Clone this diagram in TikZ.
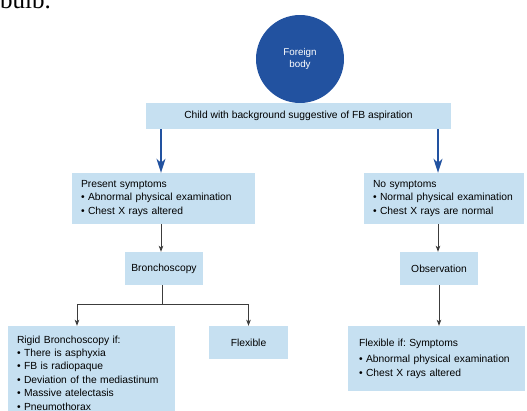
\documentclass[tikz,border=0pt]{standalone}
\usepackage{fontspec}
\setmainfont{Liberation Sans}
\newfontfamily\pageserif{Liberation Serif}
\usetikzlibrary{%
        arrows.meta,
        positioning
    }
\definecolor{fbblue}{RGB}{34, 82, 160}
\definecolor{boxblue}{RGB}{198, 224, 241}
\definecolor{linegray}{RGB}{60, 60, 60}
\frenchspacing
\tikzset{%
    stepbox/.style={%
        fill=boxblue,
        align=left,
        inner xsep=9pt,
        font=\fontsize{10.3}{13.4}\selectfont
    },
    labelbox/.style={%
        fill=boxblue,
        align=center,
        inner sep=0pt,
        font=\fontsize{10.3}{13.4}\selectfont
    },
    bluearrow/.style={%
        -{Stealth[length=14pt, width=9pt, inset=4pt]},
        fbblue,
        line width=1.4pt
    },
    grayarrow/.style={%
        -{Stealth[length=6pt, width=4.5pt, inset=1.5pt]},
        linegray,
        line width=0.8pt
    }
}

\begin{document}
\begin{tikzpicture}[x=1pt, y=-1pt]

    \useasboundingbox (0, 0) rectangle (527, 410);

    % Cropped page text
    \node[anchor=base west, inner sep=0pt, font=\pageserif\fontsize{25}{25}\selectfont]
        (caption) at (0, 8) {bulb.};

    % Start
    \node[circle, fill=fbblue, minimum size=88pt, inner sep=0pt, text=white,
          align=center, font=\fontsize{9.8}{12.6}\selectfont]
        (fb) at (300, 59) {Foreign\\body};
    \node[labelbox, minimum width=305pt, minimum height=26pt]
        (child) at (298.5, 116) {Child with background suggestive of FB aspiration};

    \coordinate (lcol) at (161, 0);
    \coordinate (rcol) at (438, 0);

    % Symptoms
    \node[stepbox, text width=165pt, minimum height=51pt] (present) at (163.5, 198.5)
        {Present symptoms\\
         \textbullet\ Abnormal physical examination\\
         \textbullet\ Chest X rays altered};
    \node[stepbox, text width=142pt, minimum height=51pt] (nosymp) at (444, 198.5)
        {No symptoms\\
         \textbullet\ Normal physical examination\\
         \textbullet\ Chest X rays are normal};

    \draw[bluearrow] (child.south -| lcol) -- (present.north -| lcol);
    \draw[bluearrow] (child.south -| rcol) -- (nosymp.north -| rcol);

    % Next step
    \node[labelbox, minimum width=78pt, minimum height=33pt] (bron) at (164, 268.5)
        {Bronchoscopy};
    \node[labelbox, minimum width=78pt, minimum height=33pt] (obs) at (439, 268.5)
        {Observation};

    \draw[grayarrow] (present.south -| lcol) -- (bron.north -| lcol);
    \draw[grayarrow] (nosymp.south -| rcol) -- (obs.north -| rcol);

    % Kind of bronchoscopy
    \node[stepbox, text width=149pt, minimum height=94pt] (rigid) at (91.5, 373)
        {Rigid Bronchoscopy if:\\
         \textbullet\ There is asphyxia\\
         \textbullet\ FB is radiopaque\\
         \textbullet\ Deviation of the mediastinum\\
         \textbullet\ Massive atelectasis\\
         \textbullet\ Pneumothorax};
    \node[labelbox, minimum width=79pt, minimum height=33pt] (flex) at (248.5, 342.5)
        {Flexible};
    \node[stepbox, inner xsep=11pt, text width=155pt, minimum height=65pt] (flexif) at (436.5, 358.5)
        {Flexible if: Symptoms\\[3pt]
         \textbullet\ Abnormal physical examination\\
         \textbullet\ Chest X rays altered};

    \coordinate (fork) at (162, 304);
    \draw[grayarrow] (bron.south -| fork) -- (fork) -| ([xshift=-14.5pt] rigid.north);
    \draw[grayarrow] (fork) -| (flex.north);
    \draw[grayarrow] (obs.south) -- (flexif.north -| obs);

\end{tikzpicture}
\end{document}
